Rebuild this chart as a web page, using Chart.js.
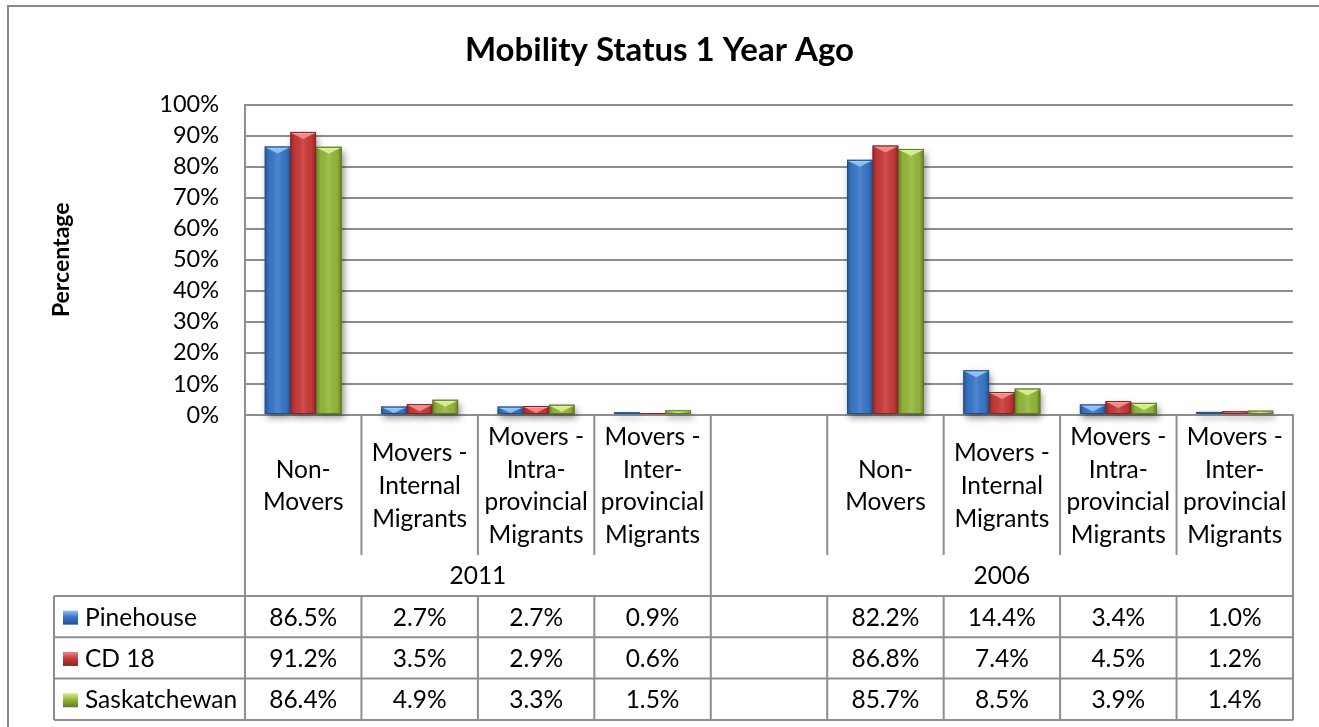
<!DOCTYPE html>
<html>
<head>
<meta charset="utf-8">
<script src="https://cdn.jsdelivr.net/npm/chart.js@4.4.1/dist/chart.umd.min.js"></script>
<style>
  html, body { margin: 0; padding: 0; background: #ffffff; }
  #wrap { width: 1319px; height: 727px; position: relative; }
</style>
</head>
<body>
<div id="wrap"><canvas id="c" width="1319" height="727"></canvas></div>
<script>
// ---------------- DATA ----------------
const chartTitle = 'Mobility Status 1 Year Ago';
const yAxisTitle = 'Percentage';
const years = ['2011', '2006'];
const categoryLabels = [
  ['Non-', 'Movers'],
  ['Movers -', 'Internal', 'Migrants'],
  ['Movers -', 'Intra-', 'provincial', 'Migrants'],
  ['Movers -', 'Inter-', 'provincial', 'Migrants']
];
const seriesNames = ['Pinehouse', 'CD 18', 'Saskatchewan'];
const pinehouse2011 = [86.5, 2.7, 2.7, 0.9];
const cd18_2011     = [91.2, 3.5, 2.9, 0.6];
const sask2011      = [86.4, 4.9, 3.3, 1.5];
const pinehouse2006 = [82.2, 14.4, 3.4, 1.0];
const cd18_2006     = [86.8, 7.4, 4.5, 1.2];
const sask2006      = [85.7, 8.5, 3.9, 1.4];
const yTickValues = [0, 10, 20, 30, 40, 50, 60, 70, 80, 90, 100];

// ---------------- STYLE ----------------
const FONT = 'Lato, "Open Sans", sans-serif';
const seriesColors = ['#3a78c9', '#c93a3a', '#95b83c'];
const seriesLight  = ['#8cc0f5', '#f08a8a', '#d6ec8a'];
const seriesDark   = ['#244f8c', '#8a2424', '#617a22'];
const LINE = '#8e8e8e';

// slots: 2011 categories, blank slot (belongs to 2006 group), 2006 categories
const slotLabels = [...categoryLabels, [''], ...categoryLabels];
const groupSpans = [[0, 3], [4, 8]];
function slots(a, b) { return [...a, null, ...b]; }
const seriesData = [
  slots(pinehouse2011, pinehouse2006),
  slots(cd18_2011, cd18_2006),
  slots(sask2011, sask2006)
];

const shadowPlugin = {
  id: 'barShadow',
  beforeDatasetsDraw(chart) {
    const ctx = chart.ctx;
    ctx.save();
    ctx.shadowColor = 'rgba(0,0,0,0.45)';
    ctx.shadowBlur = 7;
    ctx.shadowOffsetX = 2;
    ctx.shadowOffsetY = 4;
    ctx.fillStyle = '#888';
    chart.data.datasets.forEach((ds, di) => {
      chart.getDatasetMeta(di).data.forEach((el, i) => {
        if (ds.data[i] == null) return;
        const p = el.getProps(['x', 'y', 'base', 'width'], true);
        ctx.fillRect(p.x - p.width / 2, p.y, p.width, p.base - p.y);
      });
    });
    ctx.restore();
  },
  afterDatasetsDraw(chart) {
    const ctx = chart.ctx;
    chart.data.datasets.forEach((ds, di) => {
      chart.getDatasetMeta(di).data.forEach((el, i) => {
        if (ds.data[i] == null) return;
        const p = el.getProps(['x', 'y', 'base', 'width'], true);
        const l = p.x - p.width / 2, r = p.x + p.width / 2, t = p.y, b = p.base;
        const h = b - t;
        ctx.save();
        const g = ctx.createLinearGradient(l, 0, r, 0);
        g.addColorStop(0, 'rgba(0,0,0,0.28)');
        g.addColorStop(0.18, 'rgba(0,0,0,0.04)');
        g.addColorStop(0.5, 'rgba(255,255,255,0.10)');
        g.addColorStop(0.82, 'rgba(0,0,0,0.04)');
        g.addColorStop(1, 'rgba(0,0,0,0.30)');
        ctx.fillStyle = g;
        ctx.fillRect(l, t, r - l, h);
        // top bevel
        ctx.fillStyle = seriesLight[di];
        ctx.beginPath();
        ctx.moveTo(l + 1, t + 1);
        ctx.lineTo(r - 1, t + 1);
        ctx.lineTo(p.x, t + Math.min(7, h - 1));
        ctx.closePath();
        ctx.fill();
        ctx.fillStyle = 'rgba(255,255,255,0.25)';
        ctx.fillRect(l, t, r - l, Math.min(2, h));
        // outline
        ctx.strokeStyle = seriesDark[di];
        ctx.lineWidth = 1;
        ctx.strokeRect(l + 0.5, t + 0.5, r - l - 1, h - 1);
        ctx.restore();
      });
    });
  }
};

const tablePlugin = {
  id: 'dataTable',
  afterDraw(chart) {
    const ctx = chart.ctx;
    const xs = chart.scales.x;
    const area = chart.chartArea;
    const half = (xs.getPixelForValue(1) - xs.getPixelForValue(0)) / 2;
    const edge = i => xs.getPixelForValue(i) - half;
    const nSlots = slotLabels.length;
    const tableLeft = 54;
    const headTop = area.bottom;
    const headBottom = headTop + 140;
    const yearBottom = headBottom + 41;
    const rowH = 41.3;
    const tableBottom = yearBottom + rowH * seriesNames.length;
    const right = edge(nSlots);

    ctx.save();
    ctx.strokeStyle = LINE;
    ctx.lineWidth = 2;
    const line = (x1, y1, x2, y2) => { ctx.beginPath(); ctx.moveTo(x1, y1); ctx.lineTo(x2, y2); ctx.stroke(); };

    for (let i = 0; i <= nSlots; i++) line(edge(i), headTop, edge(i), headBottom);
    line(edge(0), headBottom, edge(0), yearBottom);
    groupSpans.forEach(s => line(edge(s[1] + 1), headBottom, edge(s[1] + 1), yearBottom));
    line(tableLeft, yearBottom, right, yearBottom);
    for (let r = 1; r <= seriesNames.length; r++) line(tableLeft, yearBottom + rowH * r, right, yearBottom + rowH * r);
    line(tableLeft, yearBottom, tableLeft, tableBottom);
    for (let i = 0; i <= nSlots; i++) line(edge(i), yearBottom, edge(i), tableBottom);

    ctx.fillStyle = '#000';
    ctx.textAlign = 'center';
    ctx.textBaseline = 'middle';
    ctx.font = '24.5px ' + FONT;
    const lh = 32.7;
    const midHead = (headTop + headBottom) / 2 + 1;
    slotLabels.forEach((lines, i) => {
      const cx = xs.getPixelForValue(i);
      const y0 = midHead - (lines.length - 1) * lh / 2;
      lines.forEach((t, k) => ctx.fillText(t, cx, y0 + k * lh));
    });
    years.forEach((yr, gi) => {
      const s = groupSpans[gi];
      ctx.fillText(yr, (edge(s[0]) + edge(s[1] + 1)) / 2, (headBottom + yearBottom) / 2 + 1);
    });
    seriesNames.forEach((name, si) => {
      const cy = yearBottom + rowH * si + rowH / 2 + 1;
      const kx = tableLeft + 9, ky = cy - 7, kw = 15, kh = 14;
      const kg = ctx.createLinearGradient(0, ky, 0, ky + kh);
      kg.addColorStop(0, seriesLight[si]);
      kg.addColorStop(0.45, seriesColors[si]);
      kg.addColorStop(1, seriesDark[si]);
      ctx.fillStyle = kg;
      ctx.fillRect(kx, ky, kw, kh);
      ctx.fillStyle = '#000';
      ctx.textAlign = 'left';
      ctx.fillText(name, kx + kw + 7, cy);
      ctx.textAlign = 'center';
      seriesData[si].forEach((v, i) => {
        if (v == null) return;
        ctx.fillText(v.toFixed(1) + '%', xs.getPixelForValue(i), cy);
      });
    });

    ctx.lineWidth = 2;
    ctx.strokeStyle = '#8a8a8a';
    ctx.strokeRect(8, 6, 1400, 800);
    ctx.restore();
  }
};

Chart.defaults.color = '#000';
Chart.defaults.font.family = FONT;

new Chart(document.getElementById('c'), {
  type: 'bar',
  data: {
    labels: slotLabels.map(l => l.join(' ')),
    datasets: seriesNames.map((name, i) => ({
      label: name,
      data: seriesData[i],
      backgroundColor: seriesColors[i],
      borderWidth: 0,
      categoryPercentage: 0.66,
      barPercentage: 1.0
    }))
  },
  options: {
    responsive: false,
    animation: false,
    layout: { padding: { left: 26, right: 26, top: 0, bottom: 0 } },
    plugins: {
      legend: { display: false },
      tooltip: { enabled: false },
      title: {
        display: true,
        text: chartTitle,
        color: '#000',
        font: { family: FONT, size: 33, weight: 'bold' },
        padding: { top: 31, bottom: 34 }
      }
    },
    scales: {
      x: {
        type: 'category',
        grid: { display: false },
        border: { display: true, color: LINE, width: 2 },
        ticks: { display: false },
        afterFit(s) { s.height = 312; }
      },
      y: {
        min: 0,
        max: 100,
        afterBuildTicks(s) { s.ticks = yTickValues.map(v => ({ value: v })); },
        ticks: {
          font: { family: FONT, size: 23.5 },
          color: '#000',
          padding: 26,
          autoSkip: false,
          callback: v => v + '%'
        },
        grid: { color: LINE, lineWidth: 2, drawTicks: false },
        border: { display: true, color: LINE, width: 2 },
        title: {
          display: true,
          text: yAxisTitle,
          color: '#000',
          font: { family: FONT, size: 23, weight: 'bold' },
          padding: { top: 22, bottom: 0 }
        },
        afterFit(s) { s.width = 219; }
      }
    }
  },
  plugins: [shadowPlugin, tablePlugin]
});
</script>
</body>
</html>
